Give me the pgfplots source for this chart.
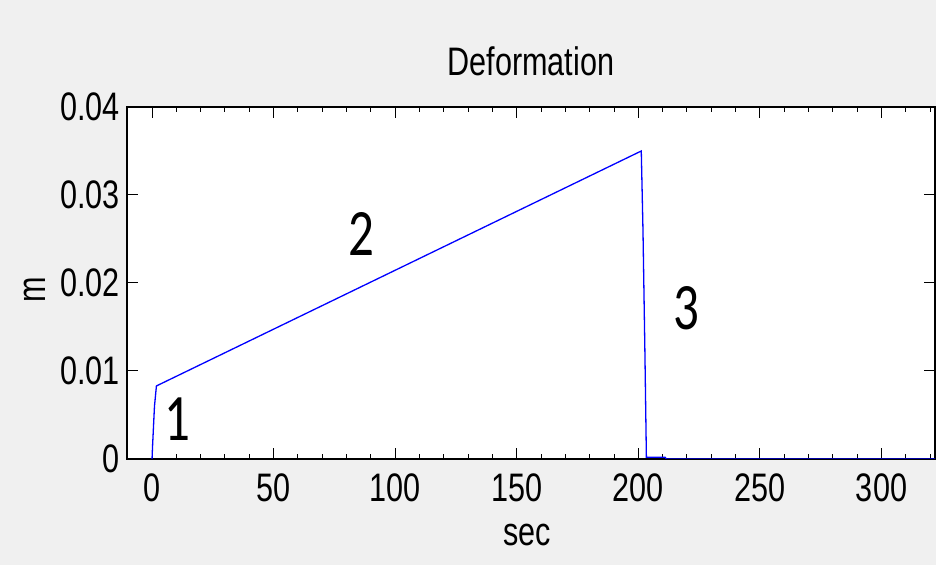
\documentclass[border=0pt]{standalone}
\usepackage{fontspec}
\setmainfont{Liberation Sans}
\newfontfamily\calibri{Carlito}
\usepackage{graphicx}
\usepackage{pgfplots}
\pgfplotsset{compat=1.18}
\definecolor{figbg}{HTML}{F0F0F0}
\newcommand\st[1]{\scalebox{1}[1.3]{#1}}
\newcommand\bignum[1]{\scalebox{1}[1.3]{\calibri\fontsize{25.5}{30}\selectfont #1}}
\begin{document}
\begin{tikzpicture}[x=1pt,y=1pt]
\fill[figbg] (0,0) rectangle (468,282.5);
\begin{axis}[
  at={(63.5pt,53pt)}, anchor=south west,
  scale only axis, width=404pt, height=176pt,
  xmin=-10.3, xmax=322, ymin=0, ymax=0.04,
  axis background/.style={fill=white},
  xtick={0,50,100,150,200,250,300},
  xticklabels={\st{0},\st{50},\st{100},\st{150},\st{200},\st{250},\st{300}},
  minor xtick={10,20,30,40,60,70,80,90,110,120,130,140,160,170,180,190,210,220,230,240,260,270,280,290,310,320},
  ytick={0,0.01,0.02,0.03,0.04},
  yticklabels={\st{0},\st{0.01},\st{0.02},\st{0.03},\st{0.04}},
  tick align=inside, major tick length=5.5pt, minor tick length=2.5pt,
  tick style={black, line width=0.5pt},
  axis line style={line width=0.6pt},
  ticklabel style={font=\fontsize{15.3}{18}\selectfont},
  xticklabel style={anchor=center, yshift=-14.5pt},
  scaled y ticks=false,
  every axis title shift=0pt,
  title={\st{Deformation}},
  title style={font=\fontsize{15.3}{18}\selectfont, at={(axis description cs:0.5,1)}, anchor=center, yshift=23pt},
  xlabel={\st{sec}},
  xlabel style={font=\fontsize{15.3}{18}\selectfont, at={(axis description cs:0.5,0)}, anchor=center, yshift=-38pt, xshift=-2pt},
  ylabel={\st{m}},
  ylabel style={font=\fontsize{15.3}{18}\selectfont, at={([xshift=-46pt,yshift=-3.5pt]axis description cs:0,0.5)}, anchor=center},
]
\addplot[blue, line width=0.65pt] coordinates {
  (0,0) (0.2,0.0014) (1,0.006) (1.8,0.0083)
  (201.2,0.035) (201.9,0.026) (202.7,0.012) (203.3,0.0002)
  (211,0.0002) (211.5,0) (322,0)
};
\node at (axis cs:10.3,0.00455) {\bignum{1}};
\node at (axis cs:86.3,0.0256) {\bignum{2}};
\node at (axis cs:219.9,0.01716) {\bignum{3}};
\end{axis}
\pgfresetboundingbox
\path (0,0) rectangle (468,282.5);
\end{tikzpicture}
\end{document}
